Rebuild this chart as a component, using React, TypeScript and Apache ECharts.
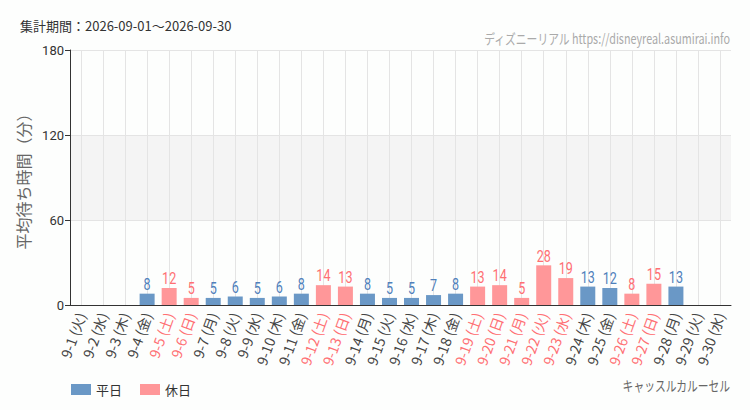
import React, { useEffect, useRef } from "react";
import * as echarts from "echarts";

const categories = [
  "9-1 (火)", "9-2 (水)", "9-3 (木)", "9-4 (金)", "9-5 (土)", "9-6 (日)", "9-7 (月)",
  "9-8 (火)", "9-9 (水)", "9-10 (木)", "9-11 (金)", "9-12 (土)", "9-13 (日)", "9-14 (月)",
  "9-15 (火)", "9-16 (水)", "9-17 (木)", "9-18 (金)", "9-19 (土)", "9-20 (日)", "9-21 (月)",
  "9-22 (火)", "9-23 (水)", "9-24 (木)", "9-25 (金)", "9-26 (土)", "9-27 (日)", "9-28 (月)",
  "9-29 (火)", "9-30 (水)",
];

const holidayFlags = [
  0, 0, 0, 0, 1, 1, 0,
  0, 0, 0, 0, 1, 1, 0,
  0, 0, 0, 0, 1, 1, 1,
  1, 1, 0, 0, 1, 1, 0,
  0, 0,
];

const waitValues: (number | null)[] = [
  null, null, null, 8, 12, 5, 5,
  6, 5, 6, 8, 14, 13, 8,
  5, 5, 7, 8, 13, 14, 5,
  28, 19, 13, 12, 8, 15, 13,
  null, null,
];

const yTicks = [0, 60, 120, 180];

const BLUE = "#6a98c6";
const BLUE_TEXT = "#4f80bb";
const PINK = "#ff9799";
const PINK_TEXT = "#ff6f73";
const CJK = "'Noto Sans CJK JP', sans-serif";

export default function App() {
  const ref = useRef<HTMLDivElement>(null);
  useEffect(() => {
    if (!ref.current) return;
    const chart = echarts.init(ref.current, null, { renderer: "svg" });
    const weekday = waitValues.map((v, i) => (holidayFlags[i] ? null : v));
    const holiday = waitValues.map((v, i) => (holidayFlags[i] ? v : null));
    const labelData = waitValues.map((v, i) => [i, v == null ? null : v, holidayFlags[i]]);
    chart.setOption({
      animation: false,
      backgroundColor: "#fdfefd",
      textStyle: { fontFamily: "Roboto, 'Noto Sans CJK JP', sans-serif" },
      graphic: [
        {
          type: "text",
          x: 20,
          y: 25,
          style: { text: "集計期間：2026-09-01～2026-09-30", fill: "#333", font: `13px ${CJK}`, verticalAlign: "middle" },
        },
        {
          type: "text",
          x: 730,
          y: 38,
          scaleX: 0.77,
          style: { text: "ディズニーリアル https://disneyreal.asumirai.info", fill: "#aaa", font: `14px ${CJK}`, align: "right", verticalAlign: "middle" },
        },
        {
          type: "text",
          x: 730,
          y: 385,
          scaleX: 0.77,
          style: { text: "キャッスルカルーセル", fill: "#666", font: `14px ${CJK}`, align: "right", verticalAlign: "middle" },
        },
      ],
      legend: {
        left: 66,
        top: 378,
        itemWidth: 20,
        itemHeight: 11,
        itemGap: 18,
        icon: "rect",
        textStyle: { fontSize: 13, color: "#333", fontFamily: CJK },
        data: ["平日", "休日"],
      },
      grid: { left: 70, right: 19, top: 50, bottom: 105, containLabel: false },
      xAxis: {
        type: "category",
        data: categories,
        axisLine: { lineStyle: { color: "#333" } },
        axisTick: { alignWithLabel: true, length: 5, lineStyle: { color: "#333" } },
        splitLine: { show: true, alignWithLabel: true, lineStyle: { color: "#e4e4e4" } },
        axisLabel: {
          rotate: 70,
          interval: 0,
          margin: 8,
          fontSize: 14,
          formatter: (value: string, index: number) =>
            holidayFlags[index] ? `{h|${value}}` : `{w|${value}}`,
          rich: {
            h: { color: PINK_TEXT, fontSize: 14, fontFamily: CJK },
            w: { color: "#444", fontSize: 14, fontFamily: CJK },
          },
        },
      },
      yAxis: {
        type: "value",
        min: yTicks[0],
        max: yTicks[yTicks.length - 1],
        interval: 60,
        name: "平均待ち時間（分）",
        nameLocation: "middle",
        nameGap: 34,
        nameTextStyle: { fontSize: 16, color: "#666", fontFamily: CJK },
        axisLine: { show: true, lineStyle: { color: "#333" } },
        axisTick: { show: true, length: 5, lineStyle: { color: "#333" } },
        axisLabel: { fontSize: 13, color: "#333", margin: 6 },
        splitLine: { show: true, lineStyle: { color: "#e4e4e4" } },
        splitArea: { show: true, areaStyle: { color: ["rgba(0,0,0,0)", "#f4f4f4"] } },
      },
      series: [
        {
          name: "平日",
          type: "bar",
          stack: "all",
          barWidth: 15,
          data: weekday,
          itemStyle: { color: BLUE },
        },
        {
          name: "休日",
          type: "bar",
          stack: "all",
          barWidth: 15,
          data: holiday,
          itemStyle: { color: PINK },
        },
        {
          name: "labels",
          type: "custom",
          silent: true,
          z: 5,
          data: labelData,
          encode: { x: 0, y: 1 },
          renderItem: (params: any, api: any) => {
            const v = api.value(1);
            if (v == null || isNaN(v)) return null;
            const pt = api.coord([api.value(0), v]);
            const isHoliday = api.value(2) === 1;
            return {
              type: "text",
              x: pt[0],
              y: pt[1] - 1,
              scaleX: 0.74,
              style: {
                text: String(v),
                fill: isHoliday ? PINK_TEXT : BLUE_TEXT,
                font: "17px Roboto, sans-serif",
                align: "center",
                verticalAlign: "bottom",
              },
            };
          },
        },
      ],
    });
    return () => chart.dispose();
  }, []);
  return <div ref={ref} style={{ width: 750, height: 410, position: "absolute", left: 0, top: 0 }} />;
}
